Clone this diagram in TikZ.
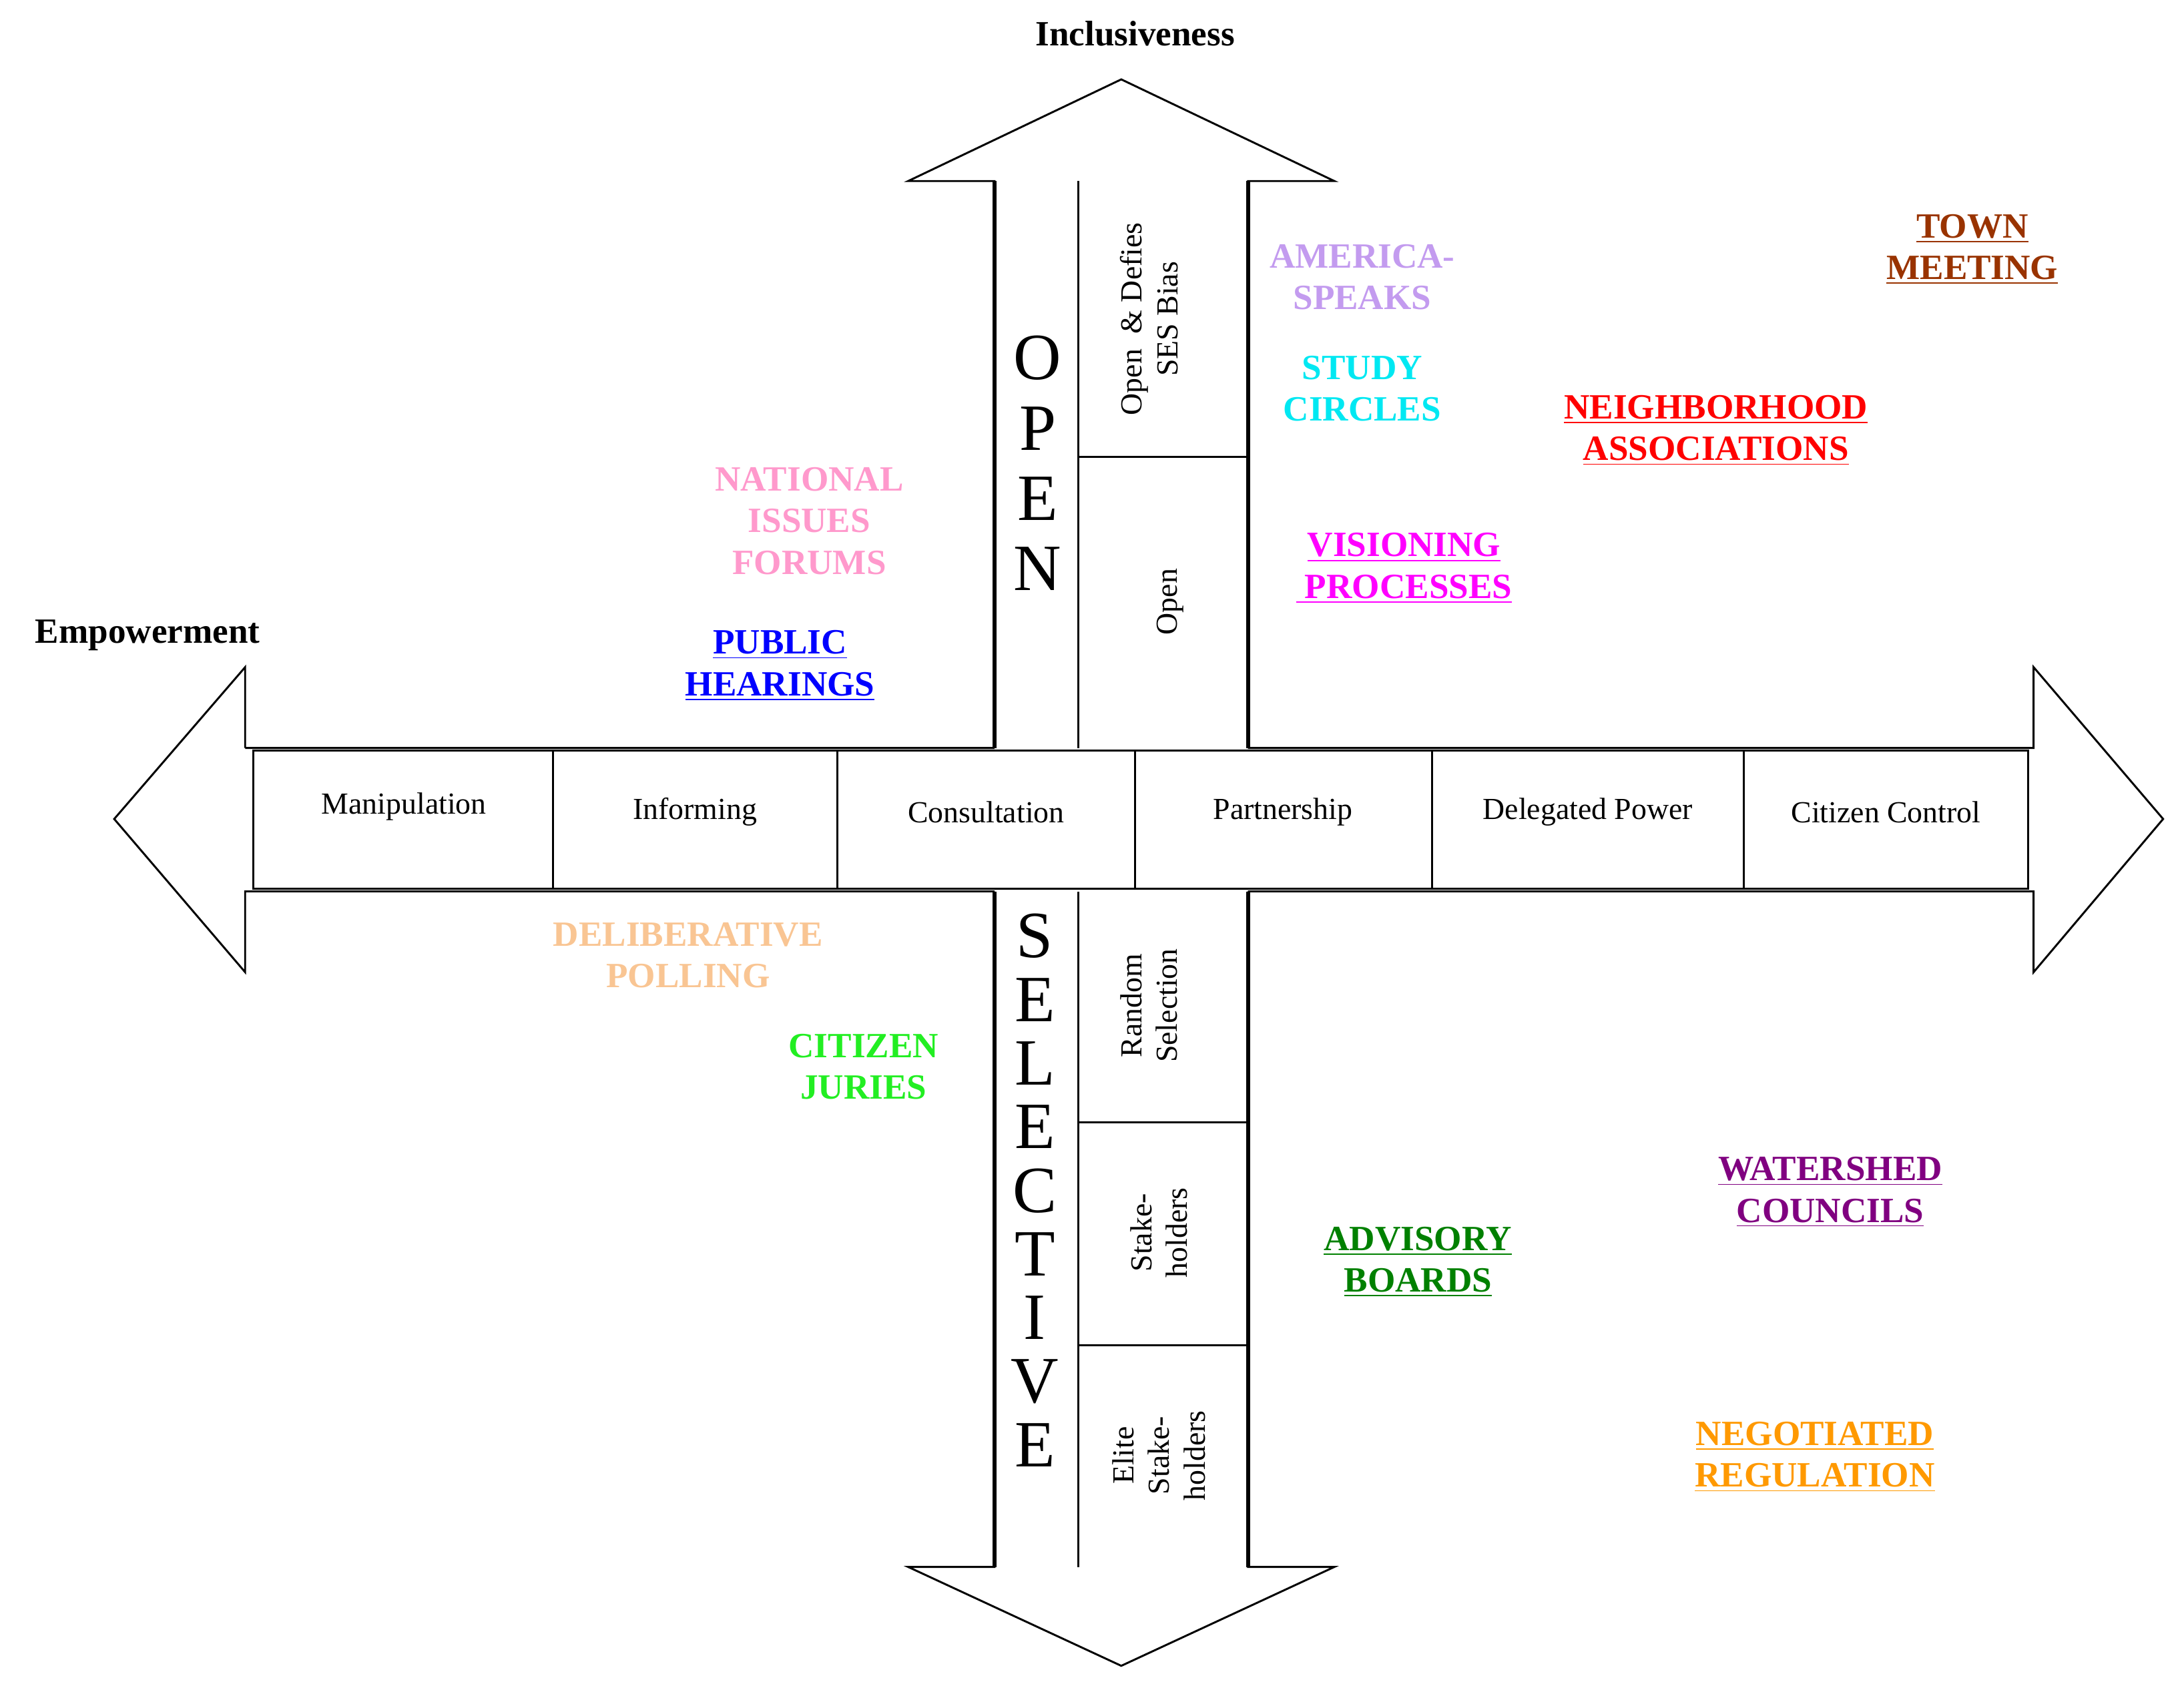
\documentclass[tikz,border=0pt]{standalone}
\usepackage{fontspec}
\setmainfont{Liberation Serif}
\definecolor{lavender}{HTML}{C39BEF}
\definecolor{aqua}{HTML}{00E8F2}
\definecolor{townbrown}{HTML}{993300}
\definecolor{pinkish}{HTML}{FF99CC}
\definecolor{peach}{HTML}{F9C593}
\definecolor{brightgreen}{HTML}{22EE22}
\definecolor{darkgreen}{HTML}{008000}
\definecolor{watershed}{HTML}{800080}
\definecolor{negorange}{HTML}{FF9900}
\definecolor{pinkmag}{HTML}{FF00FF}
\begin{document}
\begin{tikzpicture}[x=0.02cm,y=-0.02cm,
  lab/.style={font=\fontsize{14.5}{17}\selectfont\bfseries,align=center},
  cell/.style={font=\fontsize{12.5}{14}\selectfont},
  vcell/.style={font=\fontsize{12.5}{14.5}\selectfont,align=center,rotate=90},
  big/.style={font=\fontsize{27}{27}\selectfont}]
\useasboundingbox (0,0) rectangle (1568,1209);
% horizontal arrow
\draw[thick] (176,537) -- (714,537) (896,537) -- (1460,537) -- (1460,479) -- (1553,588)
  -- (1460,698) -- (1460,640) -- (896,640) (714,640) -- (176,640) -- (176,698)
  -- (82,588) -- (176,479) -- (176,537);
% vertical arrow
\draw[thick] (714,537) -- (714,130) -- (652,130) -- (805,57) -- (958,130) -- (896,130) -- (896,537);
\draw[thick] (714,640) -- (714,1125) -- (652,1125) -- (805,1196) -- (958,1125) -- (896,1125) -- (896,640);
\draw[line width=1.6pt] (714,130) -- (714,537) (896,130) -- (896,537)
  (714,640) -- (714,1125) (896,640) -- (896,1125);
\draw[thick] (774,130) -- (774,537) (774,328) -- (896,328);
\draw[thick] (774,640) -- (774,1125) (774,806) -- (896,806) (774,966) -- (896,966);
% row of levels
\draw[thick] (182,539) rectangle (1456,638);
\foreach \x in {397,601,815,1028,1252} \draw[thick] (\x,539) -- (\x,638);
\path (290,579) node[cell] (manip) {Manipulation};
\path (499,583) node[cell] (inform) {Informing};
\path (708,583) node[cell] (consult) {Consultation};
\path (921,583) node[cell] (partner) {Partnership};
\path (1140,583) node[cell] (deleg) {Delegated Power};
\path (1354,583) node[cell] (control) {Citizen Control};
% vertical cells
\path (825,229) node[vcell] (defies) {Open \ \& Defies\\SES Bias};
\path (840,432) node[vcell] (open) {Open};
\path (825,722) node[vcell] (random) {Random\\Selection};
\path (832,885) node[vcell] (stake) {Stake-\\holders};
\path (832,1045) node[vcell] (elite) {Elite\\Stake-\\holders};
\foreach \l [count=\i] in {O,P,E,N}
  \path (745,257+50.5*\i-50.5) node[big] {\l};
\foreach \l [count=\i] in {S,E,L,E,C,T,I,V,E}
  \path (743,672+45.7*\i-45.7) node[big] {\l};
% axis titles
\path (815,24) node[lab] (incl) {Inclusiveness};
\path (106,456) node[lab] (empow) {Empowerment};
% methods
\path (978,199) node[lab,text=lavender] (america) {AMERICA-\\SPEAKS};
\path (978,279) node[lab,text=aqua] (study) {STUDY\\CIRCLES};
\path (1416,179) node[lab,text=townbrown] (town) {\underline{TOWN}\\\underline{MEETING}};
\path (1232,309) node[lab,text=red] (neigh) {\underline{NEIGHBORHOOD}\\\underline{ASSOCIATIONS}};
\path (1008,408) node[lab,text=pinkmag] (vision) {\underline{VISIONING}\\\underline{\ PROCESSES}};
\path (581,374) node[lab,text=pinkish] (nif) {NATIONAL\\ISSUES\\FORUMS};
\path (560,478) node[lab,text=blue] (hear) {\underline{PUBLIC}\\\underline{HEARINGS}};
\path (494,686) node[lab,text=peach] (delib) {DELIBERATIVE\\POLLING};
\path (620,766) node[lab,text=brightgreen] (jury) {CITIZEN\\JURIES};
\path (1018,906) node[lab,text=darkgreen] (advis) {\underline{ADVISORY}\\\underline{BOARDS}};
\path (1314,856) node[lab,text=watershed] (water) {\underline{WATERSHED}\\\underline{COUNCILS}};
\path (1303,1046) node[lab,text=negorange] (nego) {\underline{NEGOTIATED}\\\underline{REGULATION}};
\end{tikzpicture}
\end{document}
